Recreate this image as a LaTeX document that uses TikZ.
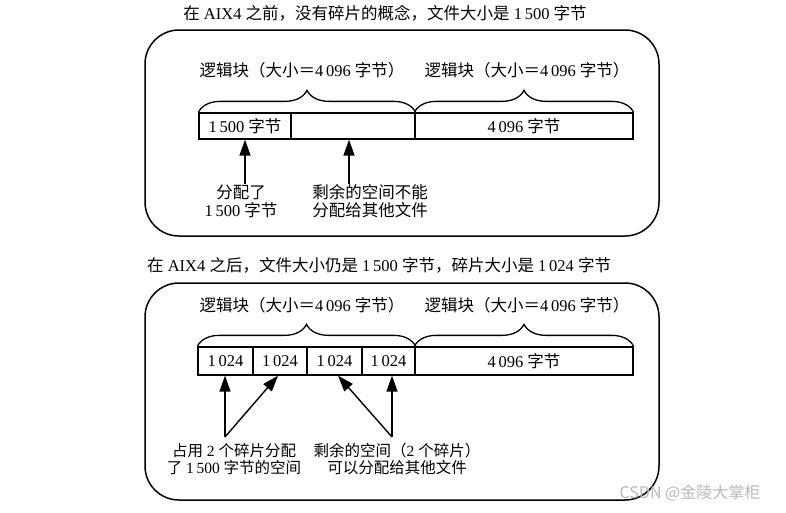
\documentclass[tikz,border=0pt]{standalone}
\usepackage{fontspec}
\setmainfont{Liberation Serif}
\newfontfamily\cjk{Noto Sans CJK SC}
\usetikzlibrary{arrows.meta,decorations.pathreplacing}
\newcommand\zh[1]{{\cjk #1}}
\begin{document}
\begin{tikzpicture}[x=1pt,y=-1pt,
  txt/.style={font=\fontsize{16.5}{18}\selectfont, inner sep=0pt, align=center},
  smalltxt/.style={font=\fontsize{15.5}{17.5}\selectfont, inner sep=0pt, align=center},
  cell/.style={draw, line width=1.3pt, minimum height=26pt, inner sep=0pt, font=\fontsize{16.5}{18}\selectfont},
  frame/.style={draw, line width=1.5pt, rounded corners=34pt},
  brc/.style={draw, line width=1.3pt, decorate, decoration={brace, amplitude=22pt}},
  arr/.style={draw, line width=1.4pt, -{Triangle[length=16pt,width=11pt]}}]
\useasboundingbox[fill=white] (0,0) rectangle (786,512);
% ---------- top part ----------
\node[txt] (title1) at (385,13) {\zh{在} AIX4 \zh{之前，没有碎片的概念，文件大小是} 1\,500 \zh{字节}};
\draw[frame] (145,30) rectangle (659,236);
\node[txt] (la1) at (302,70) {\zh{逻辑块（大小＝}4\,096 \zh{字节）}};
\node[txt] (la2) at (527,70) {\zh{逻辑块（大小＝}4\,096 \zh{字节）}};
\node[cell, minimum width=92pt] (a1) at (245,126) {1\,500 \zh{字节}};
\node[cell, minimum width=124pt] (a2) at (353,126) {};
\node[cell, minimum width=218pt] (a3) at (524,126) {4\,096 \zh{字节}};
\draw[brc] (a1.north west) -- (a2.north east);
\draw[brc] (a3.north west) -- (a3.north east);
\node[txt] (t1) at (241,201) {\zh{分配了}\\1\,500 \zh{字节}};
\node[txt] (t2) at (370,201) {\zh{剩余的空间不能}\\\zh{分配给其他文件}};
\draw[arr] (t1.north -| a1.south) -- (a1.south);
\draw[arr] ([xshift=-4pt]t2.north -| a2.south) -- ([xshift=-4pt]a2.south);
% ---------- bottom part ----------
\node[txt, anchor=west] (title2) at (147,265) {\zh{在} AIX4 \zh{之后，文件大小仍是} 1\,500 \zh{字节，碎片大小是} 1\,024 \zh{字节}};
\draw[frame] (145,283) rectangle (659,500);
\node[txt] (lb1) at (302,305) {\zh{逻辑块（大小＝}4\,096 \zh{字节）}};
\node[txt] (lb2) at (527,305) {\zh{逻辑块（大小＝}4\,096 \zh{字节）}};
\node[cell, minimum width=55pt, minimum height=28pt] (b1) at (225.5,361) {1\,024};
\node[cell, minimum width=54pt, minimum height=28pt] (b2) at (280,361) {1\,024};
\node[cell, minimum width=55pt, minimum height=28pt] (b3) at (334.5,361) {1\,024};
\node[cell, minimum width=53pt, minimum height=28pt] (b4) at (388.5,361) {1\,024};
\node[cell, minimum width=218pt, minimum height=28pt] (b5) at (524,361) {4\,096 \zh{字节}};
\draw[brc] (b1.north west) -- (b4.north east);
\draw[brc] (b5.north west) -- (b5.north east);
\node[smalltxt] (u1) at (234,459) {\zh{占用} 2 \zh{个碎片分配}\\\zh{了} 1\,500 \zh{字节的空间}};
\node[smalltxt] (u2) at (397,459) {\zh{剩余的空间（}2 \zh{个碎片）}\\\zh{可以分配给其他文件}};
\coordinate (p1) at (225,437);
\coordinate (p2) at (392,437);
\draw[arr] (p1) -- (p1 |- b1.south);
\draw[arr] (p1) -- ([xshift=-2pt]b2.south);
\draw[arr] (p2) -- (p2 |- b4.south);
\draw[arr] (p2) -- ([xshift=3.5pt]b3.south);
% watermark
\node[font=\cjk\fontsize{16}{16}\selectfont, text=gray!55, inner sep=0pt] (wm) at (690,493) {CSDN @金陵大掌柜};
\end{tikzpicture}
\end{document}
